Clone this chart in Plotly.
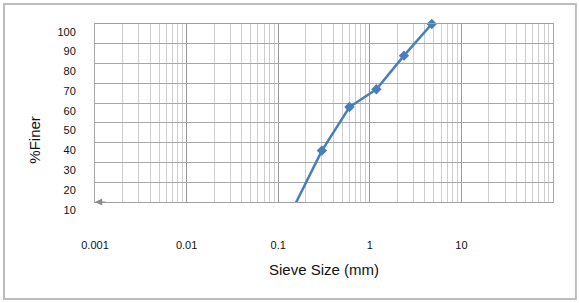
import plotly.graph_objects as go

# Data (sieve analysis)
sieve_mm = [4.75, 2.36, 1.18, 0.6, 0.3, 0.15, 0.075]
pct_finer = [100, 84, 67, 58, 36, 8, 2]

x_tick_vals = [0.001, 0.01, 0.1, 1, 10]
x_tick_text = ["0.001", "0.01", "0.1", "1", "10"]
y_tick_vals = [10, 20, 30, 40, 50, 60, 70, 80, 90, 100]

FONT = "Liberation Sans"
BLUE = "#4A7EBB"
TXT = "#111111"
Y_MIN, Y_MAX = 10, 100

minor_vals = [m * 10 ** e for e in range(-3, 2) for m in range(2, 10)]
marker_opacity = [1 if v >= Y_MIN else 0 for v in pct_finer]

fig = go.Figure()
fig.add_trace(go.Scatter(
    x=sieve_mm, y=pct_finer, mode="lines+markers",
    line=dict(color=BLUE, width=2.5),
    marker=dict(symbol="diamond", size=8, color=BLUE, opacity=marker_opacity),
    cliponaxis=False,
    showlegend=False,
))

fig.update_layout(
    width=579, height=303,
    margin=dict(l=95, r=26, t=24, b=101),
    paper_bgcolor="white", plot_bgcolor="white",
    font=dict(family=FONT, color=TXT),
    xaxis=dict(
        type="log", range=[-3, 2],
        tickvals=x_tick_vals, ticktext=x_tick_text,
        tickfont=dict(size=11, color=TXT),
        ticks="", ticklabelstandoff=33,
        showgrid=True, gridcolor="#9a9a9a", gridwidth=1,
        minor=dict(tickvals=minor_vals, showgrid=True, gridcolor="#cfcfcf", gridwidth=1, ticks=""),
        showline=True, linecolor="#a0a0a0", linewidth=1, mirror=True,
        zeroline=False,
        title=dict(text="Sieve Size (mm)", font=dict(size=15, color=TXT), standoff=14),
    ),
    yaxis=dict(
        range=[Y_MIN, Y_MAX], tickvals=y_tick_vals,
        tickfont=dict(size=11, color=TXT),
        ticks="", ticklabelposition="outside bottom", ticklabelstandoff=16,
        showgrid=True, gridcolor="#a8a8a8", gridwidth=1,
        showline=True, linecolor="#a8a8a8", linewidth=1, mirror=True,
        zeroline=False,
    ),
    annotations=[
        dict(text="%Finer", xref="paper", yref="paper", x=-0.131, y=0.35,
             textangle=-90, showarrow=False, font=dict(size=15, color=TXT),
             xanchor="center", yanchor="middle"),
        dict(text="", xref="paper", yref="paper", x=0.0, y=0.0, ax=12, ay=0,
             showarrow=True, arrowhead=2, arrowsize=1.2, arrowwidth=1.2, arrowcolor="#8a8a8a"),
    ],
    shapes=[
        dict(type="rect", xref="paper", yref="paper",
             x0=-0.1987, x1=1.050, y0=-0.545, y1=1.112,
             line=dict(color="#bdbdbd", width=2), layer="below"),
    ],
)

fig.write_html("out.html", config={"displayModeBar": False},
               post_script="document.body.style.margin='0';")
